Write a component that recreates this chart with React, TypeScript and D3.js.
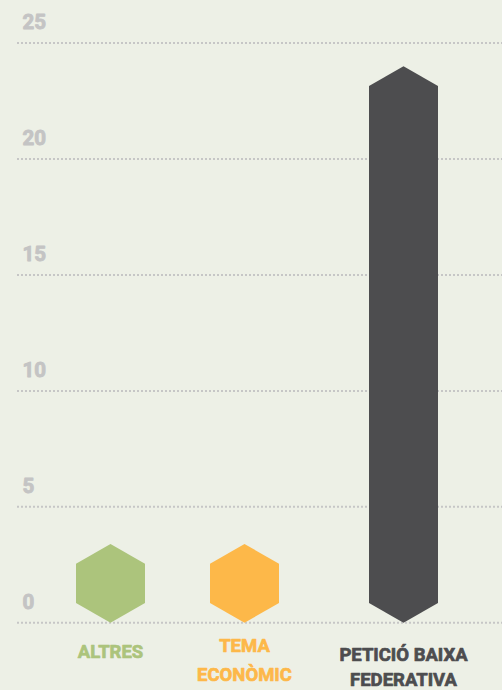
import React from "react";
import * as d3 from "d3";

const categories = ["ALTRES", "TEMA ECONÒMIC", "PETICIÓ BAIXA FEDERATIVA"];
const labelLines = [["ALTRES"], ["TEMA", "ECONÒMIC"], ["PETICIÓ BAIXA", "FEDERATIVA"]];
const values = [3.4, 3.4, 24];
const yTicks = [0, 5, 10, 15, 20, 25];

const colors = ["#acc47c", "#fdb849", "#4d4d4f"];
const labelColors = ["#acc47c", "#fdb849", "#4d4d4f"];
const labelBaselines = [658, 652, 660.5];
const lineGaps = [27, 28.5, 25];
const xNudge = [0, -12.5, 0];

const W = 502;
const H = 690;

export default function App() {
  const y = d3.scaleLinear().domain([0, 25]).range([622.8, 43]);
  const x = d3.scalePoint<string>().domain(categories).range([110.5, 403.5]).padding(0);
  const hw = 34.5;
  const tip = hw * Math.tan(Math.PI / 6);

  const hexPath = (cx: number, v: number) => {
    const yTop = y(v);
    const yBot = y(0);
    const p = d3.path();
    p.moveTo(cx, yTop);
    p.lineTo(cx + hw, yTop + tip);
    p.lineTo(cx + hw, yBot - tip);
    p.lineTo(cx, yBot);
    p.lineTo(cx - hw, yBot - tip);
    p.lineTo(cx - hw, yTop + tip);
    p.closePath();
    return p.toString();
  };

  return (
    <svg
      width={W}
      height={H}
      style={{ position: "fixed", left: 0, top: 0, background: "#edf0e6" }}
      fontFamily="Roboto, 'Open Sans', sans-serif"
    >
      <rect x={0} y={0} width={W} height={H} fill="#edf0e6" />
      {yTicks.map((t) => (
        <g key={t}>
          <line
            x1={17}
            x2={W}
            y1={y(t)}
            y2={y(t)}
            stroke="#c6c6c6"
            strokeWidth={2}
            strokeDasharray="2 2"
          />
          <text
            x={22.5}
            y={y(t) - 14}
            fontSize={20.5}
            fontWeight={700}
            fill="#c4c4c4"
            stroke="#c4c4c4"
            strokeWidth={0.9}
            strokeLinejoin="round"
          >
            {t}
          </text>
        </g>
      ))}
      {categories.map((c, i) => {
        const cx = (x(c) as number) + xNudge[i];
        return (
          <g key={c}>
            <path d={hexPath(cx, values[i])} fill={colors[i]} />
            {labelLines[i].map((ln, j) => (
              <text
                key={ln}
                x={cx}
                y={labelBaselines[i] + j * lineGaps[i]}
                textAnchor="middle"
                fontSize={18.5}
                fontWeight={700}
                fill={labelColors[i]}
                stroke={labelColors[i]}
                strokeWidth={0.7}
                strokeLinejoin="round"
              >
                {ln}
              </text>
            ))}
          </g>
        );
      })}
    </svg>
  );
}
